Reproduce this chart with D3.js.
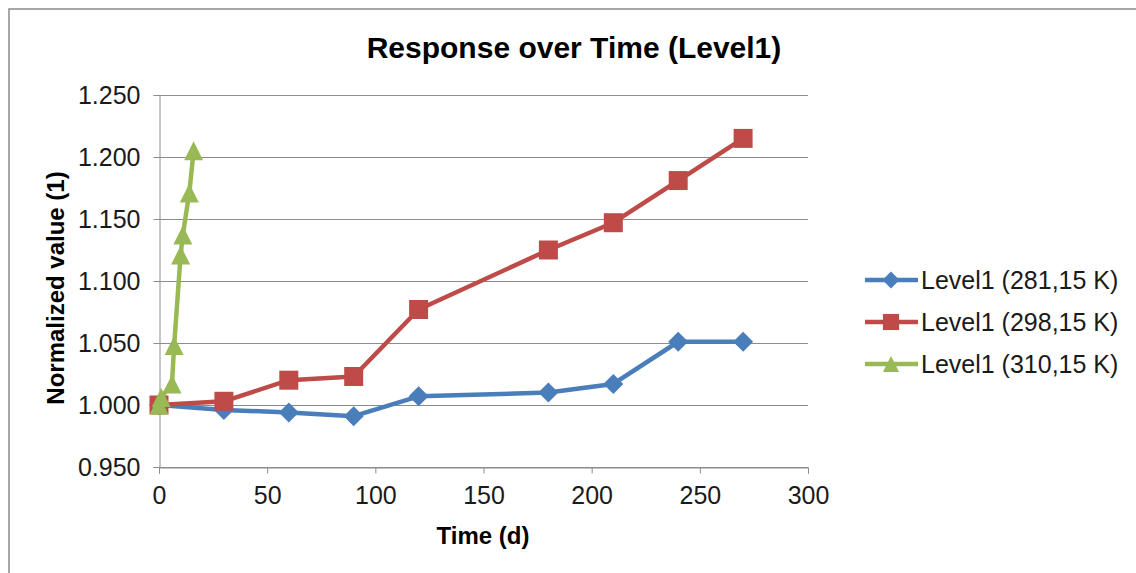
<!DOCTYPE html>
<html>
<head>
<meta charset="utf-8">
<script src="https://cdn.jsdelivr.net/npm/d3@7"></script>
<style>
  html, body { margin: 0; padding: 0; background: #fff; }
  svg { display: block; font-family: "Liberation Sans", Arial, sans-serif; }
</style>
</head>
<body>
<svg id="chart" width="1136" height="573"></svg>
<script>
// Series data: time in days, normalized value
const seriesNames = ["Level1 (281,15 K)", "Level1 (298,15 K)", "Level1 (310,15 K)"];
const daysLow = [0, 30, 60, 90, 120, 180, 210, 240, 270];
const valuesLow = [1.000, 0.996, 0.994, 0.991, 1.007, 1.010, 1.017, 1.051, 1.051];
const daysMid = [0, 30, 60, 90, 120, 180, 210, 240, 270];
const valuesMid = [1.000, 1.003, 1.020, 1.023, 1.077, 1.125, 1.147, 1.181, 1.215];
const daysHigh = [0, 1, 6, 7, 10, 11, 14, 16];
const valuesHigh = [1.000, 1.006, 1.017, 1.048, 1.121, 1.137, 1.171, 1.205];

const xTicks = [0, 50, 100, 150, 200, 250, 300];
const yTicks = [0.950, 1.000, 1.050, 1.100, 1.150, 1.200, 1.250];

const colors = ["#4A7EBB", "#BE4B48", "#98B954"];

// Marker shapes; "size" here is the half-width of the marker box
const diamond = { draw(ctx, r) { ctx.moveTo(0, -r); ctx.lineTo(r, 0); ctx.lineTo(0, r); ctx.lineTo(-r, 0); ctx.closePath(); } };
const square = { draw(ctx, r) { ctx.rect(-r, -r, 2 * r, 2 * r); } };
const triangle = { draw(ctx, r) { ctx.moveTo(0, -r); ctx.lineTo(r, r); ctx.lineTo(-r, r); ctx.closePath(); } };
const shapes = [diamond, square, triangle];
const markerHalf = [10, 9.5, 9.5];

const series = [
  { name: seriesNames[0], x: daysLow, y: valuesLow },
  { name: seriesNames[1], x: daysMid, y: valuesMid },
  { name: seriesNames[2], x: daysHigh, y: valuesHigh }
].map((s, i) => ({ ...s, color: colors[i], shape: shapes[i],
  points: s.x.map((d, j) => ({ x: d, y: s.y[j] })) }));

const svg = d3.select("#chart");
const font = "'Liberation Sans', Arial, sans-serif";

// Outer chart frame
svg.append("rect")
  .attr("x", 9).attr("y", 9).attr("width", 1140).attr("height", 580)
  .attr("fill", "#fff").attr("stroke", "#8a8a8a").attr("stroke-width", 1.5);

const plot = { left: 159, right: 808, top: 95, bottom: 467 };

const x = d3.scaleLinear().domain([0, 300]).range([plot.left, plot.right]);
const y = d3.scaleLinear().domain([0.95, 1.25]).range([plot.bottom, plot.top]);

// Horizontal gridlines
svg.append("g")
  .selectAll("line")
  .data(yTicks)
  .join("line")
  .attr("x1", plot.left).attr("x2", x(300))
  .attr("y1", d => Math.round(y(d)) + 0.5).attr("y2", d => Math.round(y(d)) + 0.5)
  .attr("stroke", "#8c8c8c").attr("stroke-width", 1);

// Y axis
const yAxis = svg.append("g")
  .attr("transform", `translate(${plot.left + 0.5},0)`)
  .call(d3.axisLeft(y).tickValues(yTicks).tickFormat(d3.format(".3f")).tickSize(6).tickPadding(13));
yAxis.select(".domain").attr("stroke", "#8c8c8c");
yAxis.selectAll(".tick line").attr("stroke", "#8c8c8c");
yAxis.selectAll(".tick text")
  .attr("font-size", 25).attr("fill", "#1a1a1a")
  .attr("font-family", font);

// X axis
const xAxis = svg.append("g")
  .attr("transform", `translate(0,${plot.bottom + 0.5})`)
  .call(d3.axisBottom(x).tickValues(xTicks).tickSize(6).tickPadding(13));
xAxis.select(".domain").attr("stroke", "#8c8c8c");
xAxis.selectAll(".tick line").attr("stroke", "#8c8c8c");
xAxis.selectAll(".tick text")
  .attr("font-size", 25).attr("fill", "#1a1a1a")
  .attr("font-family", font);

// Titles
svg.append("text")
  .attr("x", 574).attr("y", 58)
  .attr("text-anchor", "middle")
  .attr("font-size", 30).attr("font-weight", "bold").attr("fill", "#000")
  .text("Response over Time (Level1)");

svg.append("text")
  .attr("x", 483).attr("y", 544)
  .attr("text-anchor", "middle")
  .attr("font-size", 24).attr("font-weight", "bold").attr("fill", "#000")
  .text("Time (d)");

svg.append("text")
  .attr("transform", "translate(55,288) rotate(-90)")
  .attr("text-anchor", "middle")
  .attr("dominant-baseline", "central")
  .attr("font-size", 24).attr("font-weight", "bold").attr("fill", "#000")
  .text("Normalized value (1)");

// Lines and markers
const line = d3.line().x(d => x(d.x)).y(d => y(d.y));

series.forEach((s, i) => {
  const g = svg.append("g");
  g.append("path")
    .datum(s.points)
    .attr("d", line)
    .attr("fill", "none")
    .attr("stroke", s.color)
    .attr("stroke-width", 4.5)
    .attr("stroke-linejoin", "round");
  g.selectAll("path.marker")
    .data(s.points)
    .join("path")
    .attr("class", "marker")
    .attr("transform", d => `translate(${x(d.x)},${y(d.y)})`)
    .attr("d", d3.symbol().type(s.shape).size(markerHalf[i]))
    .attr("fill", s.color);
});

// Legend
const legend = svg.append("g");
series.forEach((s, i) => {
  const ly = 280 + i * 42;
  legend.append("line")
    .attr("x1", 865).attr("x2", 918).attr("y1", ly).attr("y2", ly)
    .attr("stroke", s.color).attr("stroke-width", 4.5);
  legend.append("path")
    .attr("transform", `translate(891,${ly})`)
    .attr("d", d3.symbol().type(s.shape).size(markerHalf[i] * 0.85))
    .attr("fill", s.color);
  legend.append("text")
    .attr("x", 921).attr("y", ly + 9)
    .attr("font-size", 25).attr("fill", "#1a1a1a")
    .attr("font-family", font)
    .text(s.name);
});
</script>
</body>
</html>
